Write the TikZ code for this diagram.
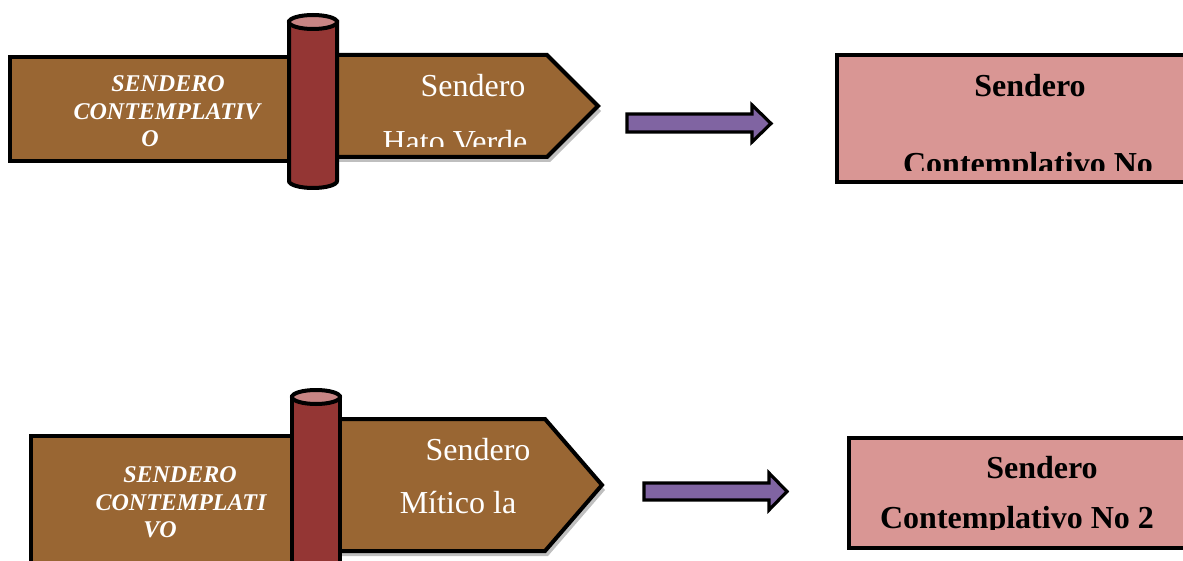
\documentclass[tikz,border=0pt]{standalone}
\usepackage{fontspec}
\setmainfont{Liberation Serif}
\usetikzlibrary{shadows}
\definecolor{boardbrown}{HTML}{996633}
\definecolor{polered}{HTML}{943634}
\definecolor{poletop}{HTML}{C88584}
\definecolor{flowpurple}{HTML}{8064A2}
\definecolor{boxpink}{HTML}{D99694}

\tikzset{
  board/.style={draw=black, line width=2pt, fill=boardbrown},
  pointer/.style={board, drop shadow={shadow xshift=1.5pt, shadow yshift=-2.5pt, opacity=0.25, fill=black}},
  pole/.style={draw=black, line width=2pt, fill=polered},
  polecap/.style={draw=black, line width=2pt, fill=poletop},
  flowarrow/.style={draw=black, line width=1.6pt, fill=flowpurple},
  trailbox/.style={draw=black, line width=1.6pt, fill=boxpink},
  captxt/.style={anchor=base, inner sep=0pt, text=white, font=\fontsize{12}{14}\selectfont\bfseries\itshape},
  nametxt/.style={anchor=base, inner sep=0pt, text=white, font=\fontsize{16}{19}\selectfont},
  boxtxt/.style={anchor=base, inner sep=0pt, font=\fontsize{16}{19}\selectfont\bfseries},
}

\begin{document}
\begin{tikzpicture}[x=0.5pt, y=-0.5pt]
  \useasboundingbox (0,0) rectangle (1183,561);

  % first sign
  \draw[board] (10,57) rectangle (300,161);
  \draw[pointer] (320,55) -- (547,55) -- (598,106) -- (547,157) -- (320,157) -- cycle;
  \draw[pole] (289,22) -- (289,181) arc[start angle=180, end angle=360, x radius=12pt, y radius=3.5pt] -- (337,22) -- cycle;
  \draw[polecap] (313,22) ellipse[x radius=12pt, y radius=3.5pt];

  \node[captxt] (capA1) at (168,92) {SENDERO};
  \node[captxt] (capA2) at (167,120) {CONTEMPLATIV};
  \node[captxt] (capA3) at (150,147) {O};
  \node[nametxt] (nameA1) at (473,97) {Sendero};
  \begin{scope}
    \clip (340,60) rectangle (600,147);
    \node[nametxt] (nameA2) at (455,153) {Hato Verde};
  \end{scope}

  \draw[flowarrow] (627,114) -- (752,114) -- (752,105) -- (771,123.5) -- (752,142) -- (752,132) -- (627,132) -- cycle;

  \draw[trailbox] (837,55) rectangle (1200,182);
  \node[boxtxt] (boxA1) at (1030,97) {Sendero};
  \begin{scope}
    \clip (840,60) rectangle (1183,171);
    \node[boxtxt] (boxA2) at (1028,175) {Contemplativo No};
  \end{scope}

  % second sign
  \draw[board] (31,436) rectangle (300,600);
  \draw[pointer] (320,419) -- (545,419) -- (602,485) -- (545,551) -- (320,551) -- cycle;
  \draw[pole] (292,397) -- (292,600) -- (340,600) -- (340,397) -- cycle;
  \draw[polecap] (316,397) ellipse[x radius=12pt, y radius=3.5pt];

  \node[captxt] (capB1) at (180,482) {SENDERO};
  \node[captxt] (capB2) at (181,510) {CONTEMPLATI};
  \node[captxt] (capB3) at (160,537) {VO};
  \node[nametxt] (nameB1) at (478,460) {Sendero};
  \node[nametxt] (nameB2) at (458,513) {Mítico la};

  \draw[flowarrow] (644,483) -- (769,483) -- (769,473) -- (787,491.5) -- (769,510) -- (769,500) -- (644,500) -- cycle;

  \draw[trailbox] (849,438) rectangle (1200,548);
  \node[boxtxt] (boxB1) at (1042,478) {Sendero};
  \begin{scope}
    \clip (850,440) rectangle (1183,529);
    \node[boxtxt] (boxB2) at (1017,528) {Contemplativo No 2};
  \end{scope}
\end{tikzpicture}
\end{document}
